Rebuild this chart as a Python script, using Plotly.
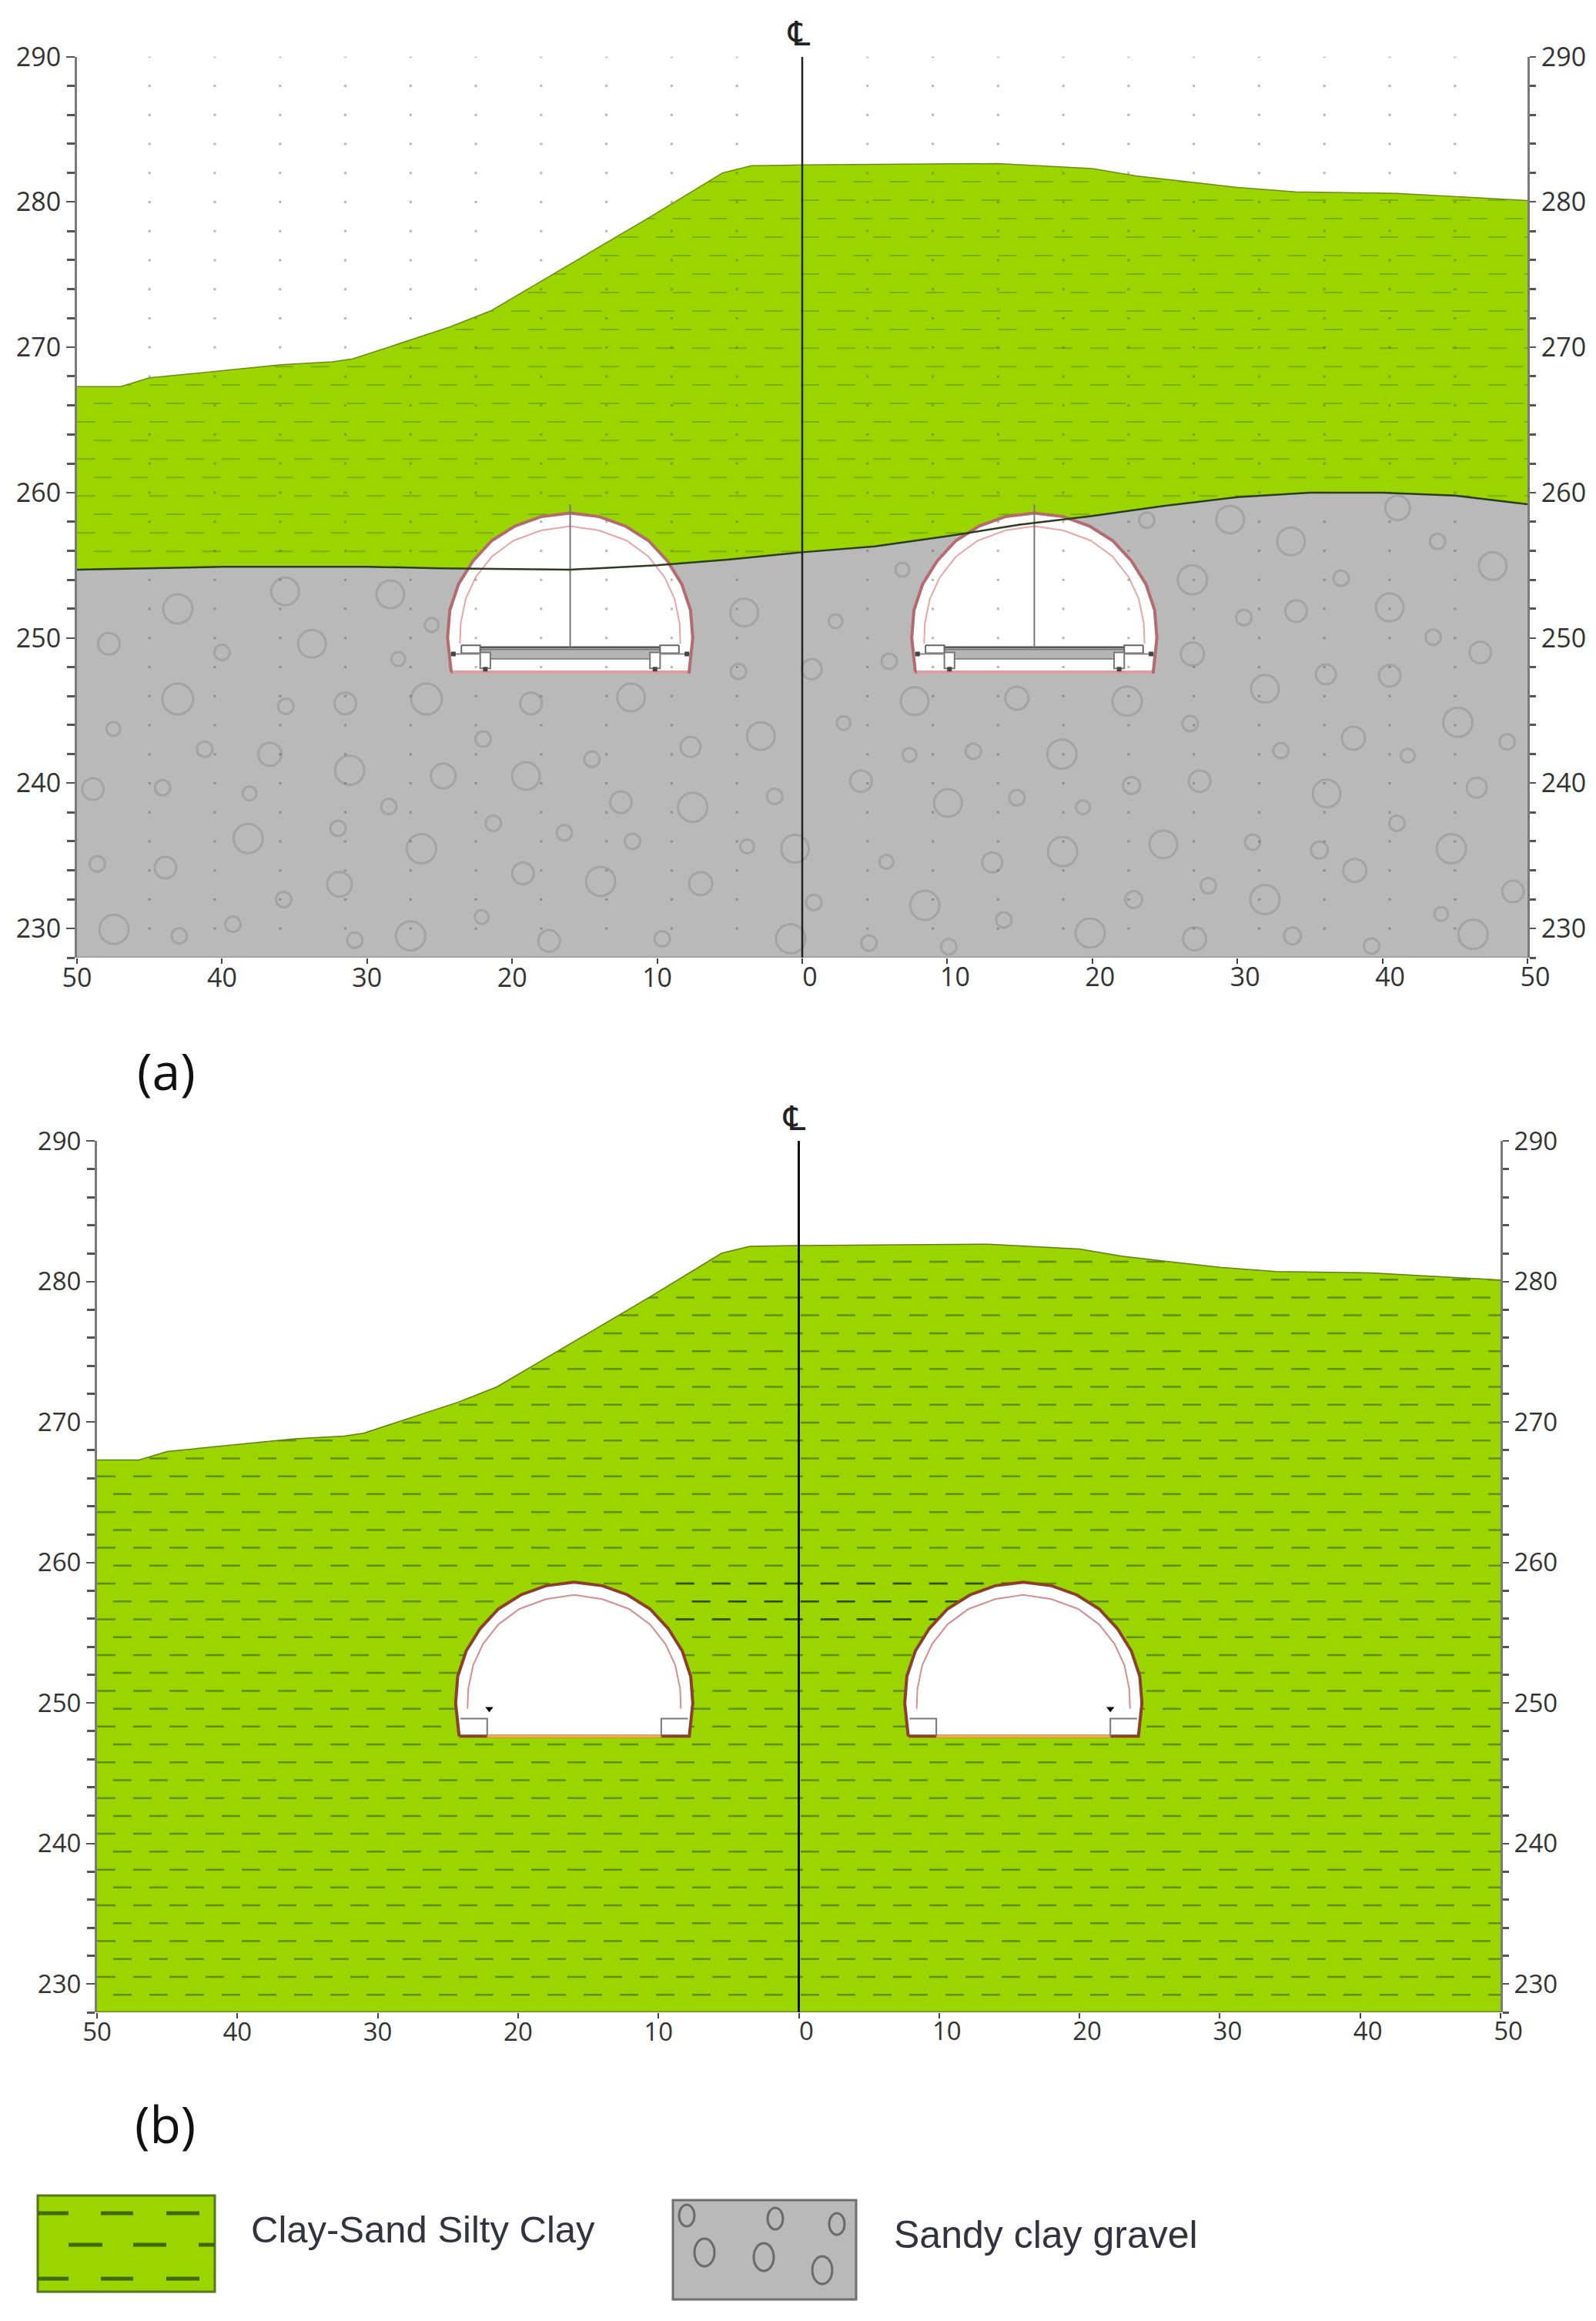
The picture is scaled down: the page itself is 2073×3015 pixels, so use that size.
# -*- coding: utf-8 -*-
"""
Geological section with twin tunnels, panels (a) and (b)
"""

import plotly.graph_objects as go

W = 2073
H = 3015
# the browser leaves its 8px body margin round the figure
PAGE = 8

# ground surface and soil interface, x is distance from centre line
surface_x = [-50, -47, -45, -40.8, -35.9, -32.4, -31, -24.3, -21.5, -10.6, -5.5, -3.5, 0, 13.5, 20, 23, 30, 34, 41, 50]
surface_y = [267.3, 267.3, 267.9, 268.3, 268.8, 269.0, 269.2, 271.4, 272.5, 278.9, 282.0, 282.5, 282.55, 282.65, 282.3, 281.8, 281.0, 280.7, 280.6, 280.1]
interface_x = [-50, -40, -30, -25, -16, -10, -5, 0, 5, 10, 15, 20, 25, 30, 35, 40, 45, 50]
interface_y = [254.7, 254.9, 254.9, 254.8, 254.7, 255.0, 255.4, 255.9, 256.3, 257.0, 257.8, 258.4, 259.1, 259.7, 260.0, 260.0, 259.8, 259.2]

# tunnel outlines, offsets from the tunnel axis
tunnel_centres = [-16, 16]
outer_dx = [-8.2, -8.45, -8.3, -7.7, -6.7, -5.4, -3.8, -2, 0, 2, 3.8, 5.4, 6.7, 7.7, 8.3, 8.45, 8.2, -8.2]
outer_el = [247.65, 250, 251.9, 253.7, 255.3, 256.7, 257.7, 258.35, 258.6, 258.35, 257.7, 256.7, 255.3, 253.7, 251.9, 250, 247.65, 247.65]
inner_dx = [-7.6, -7.55, -7.2, -6.5, -5.4, -3.9, -2, 0, 2, 3.9, 5.4, 6.5, 7.2, 7.55, 7.6]
inner_el = [249.6, 251, 252.7, 254.2, 255.6, 256.7, 257.4, 257.7, 257.4, 256.7, 255.6, 254.2, 252.7, 251, 249.6]

# gravel pieces in panel (a)
gravel_x = [-35.65, -28.4, -43.05, -25.55, -47.8, -33.8, -40, -27.85, -43.05, -35.6, -31.5, -25.9, -18.7, -11.8, -4.4, -4.0,
            -47.5, -22.0, -7.7, -2.85, -41.2, -36.7, -14.5, -31.2, -24.75, -19.05, -48.9, -44.1, -38.1, -12.5, -7.55, -1.9,
            -28.5, -21.3, -32, -16.4, -38.2, -26.25, -11.7, -3.8, -0.5, -48.6, -43.9, -19.25, -31.9, -13.9, -7, -35.75,
            -22.1, -47.45, -39.25, -42.95, -27, -30.85, -17.45, -9.65, -0.8,
            29.5, 41.05, 23.75, 33.7, 43.8, 47.6, 6.9, 26.9, 37.15, 34.05, 40.5, 30.45, 2.3, 43.5, 46.75, 26.9, 6, 0.65,
            36.1, 40.5, 31.9, 7.75, 14.8, 22.4, 2.85, 26.75, 45.2, 38, 48.6, 7.4, 11.8, 17.9, 33, 41.75, 4.05, 22.7, 27.4,
            36.15, 46.5, 10.05, 14.8, 19.35, 41, 24.9, 31.05, 35.65, 44.75, 17.95, 5.8, 13.1, 38.1, 28, 49, 0.8, 8.45,
            22.85, 31.9, 44.05, 13.9, 19.85, 46.25, 27.05, 33.8, 4.6, 10.1, 39.25]
gravel_y = [253.2, 253.0, 252.0, 250.9, 249.6, 249.6, 249.0, 248.55, 245.8, 245.3, 245.5, 245.8, 245.5, 245.9, 247.7, 251.75,
            243.75, 243.05, 242.5, 243.25, 242.35, 242.0, 241.65, 240.9, 240.5, 240.5, 239.6, 239.7, 239.3, 238.7, 238.35, 239.1,
            238.4, 237.25, 236.9, 236.6, 236.2, 235.5, 236, 235.65, 235.5, 234.45, 234.2, 233.8, 233.05, 233.25, 233.1, 232,
            230.8, 229.95, 230.3, 229.5, 229.5, 229.2, 229.15, 229.3, 229.3,
            258.15, 258.95, 258.1, 256.65, 256.65, 254.95, 254.7, 254, 254.1, 251.85, 252.1, 251.4, 251.15, 250.05, 249, 248.9, 248.4, 247.85,
            247.5, 247.4, 246.5, 245.65, 245.85, 245.65, 244.15, 244.1, 244.2, 243.1, 242.85, 241.95, 242.2, 242, 242.25, 241.9, 240.15, 239.85, 240.15,
            239.3, 239.7, 238.65, 239, 238.35, 237.25, 235.8, 235.95, 235.4, 235.5, 235.3, 234.6, 234.55, 234, 232.95, 232.55, 231.8, 231.6,
            232, 232, 231, 230.6, 229.7, 229.6, 229.3, 229.5, 229, 228.75, 228.8]
gravel_d = [36, 36, 38, 18, 28, 36, 20, 18, 40, 20, 28, 40, 28, 36, 20, 36,
            18, 20, 26, 36, 20, 30, 20, 38, 32, 36, 28, 20, 18, 28, 38, 20,
            20, 20, 20, 20, 38, 38, 20, 18, 36, 20, 28, 28, 32, 38, 30, 20,
            18, 38, 20, 20, 38, 20, 28, 20, 38,
            36, 32, 20, 36, 20, 36, 18, 38, 20, 28, 36, 20, 18, 20, 28, 30, 20, 26,
            26, 28, 36, 36, 30, 38, 18, 20, 38, 30, 20, 18, 20, 38, 20, 18, 28, 22, 28,
            36, 26, 36, 20, 18, 20, 36, 20, 22, 38, 38, 18, 26, 30, 20, 28, 20, 38,
            22, 38, 18, 20, 38, 38, 30, 22, 20, 20, 20]

# survey marks in panel (a)
dot_x = [-45, -40.5, -36, -31.5, -27, -22.5, -18, -13.5, -9, -4.5, 4.5, 9, 13.5, 18, 22.5, 27, 31.5, 36, 40.5, 45]
dot_y = [230, 232, 234, 236, 238, 240, 242, 244, 246, 248, 250, 252, 254, 256, 258, 260, 262, 264, 266, 268,
         270, 272, 274, 276, 278, 280, 282, 284, 286, 288, 290]

# clay hatch rows, from the bottom up
hatch_rows = [229.25, 230.52, 231.79, 233.07, 234.34, 235.61, 236.88, 238.15, 239.43, 240.70, 241.97, 243.24, 244.51, 245.79,
              247.06, 248.33, 249.60, 250.87, 252.15, 253.42, 254.69, 255.96, 257.23, 258.51, 259.78, 261.05, 262.32, 263.59,
              264.87, 266.14, 267.41, 268.68, 269.95, 271.23, 272.50, 273.77, 275.04, 276.31, 277.59, 278.86, 280.13, 281.40]
# darker stretch of three rows in panel (b), starts keep the dash phase of the rows under them
dark_rows = [258.51, 257.23, 255.96]
dark_starts = [-8.77, -7.62, -8.77]

left_ticks = [-50, -40, -30, -20, -10]
left_labels = ['50', '40', '30', '20', '10']
right_ticks = [0, 10, 20, 30, 40, 50]
right_labels = ['0', '10', '20', '30', '40', '50']

GREEN = '#9bd500'
GRAY = '#b9b9b9'
TEXT = '#333333'


def px(x):
    return (x - PAGE) / (W - 2 * PAGE)


def py(y):
    return 1 - (y - PAGE) / (H - 2 * PAGE)


def add_line(fig, x, y, xa, ya, color, width, dash=None):
    fig.add_trace(go.Scatter(x=x, y=y, xaxis=xa, yaxis=ya, mode='lines',
                             line=dict(color=color, width=width, dash=dash),
                             hoverinfo='skip', showlegend=False))


def add_poly(fig, x, y, xa, ya, fill, line_color=None, width=0):
    fig.add_trace(go.Scatter(x=x, y=y, xaxis=xa, yaxis=ya, mode='lines', fill='toself', fillcolor=fill,
                             line=dict(color=line_color or fill, width=width),
                             hoverinfo='skip', showlegend=False))


def add_ground(fig, xa, ya, hatch_color, hatch_width, shifted):
    add_poly(fig, [-50] + surface_x + [50], [228] + surface_y + [228], xa, ya, GREEN)
    for i, row in enumerate(hatch_rows):
        start = -48.85 if i % 2 == shifted else -50
        add_line(fig, [start, 50], [row, row], xa, ya, hatch_color, hatch_width, '24px,23px')
    # white above the ground line hides the row ends
    add_poly(fig, [-50] + surface_x + [50], [290] + surface_y + [290], xa, ya, 'white')


def add_tunnel_a(fig, cx, xa, ya):
    add_poly(fig, [cx + d for d in outer_dx], outer_el, xa, ya, 'white', '#b56a6e', 4)
    add_line(fig, [cx + d for d in inner_dx], inner_el, xa, ya, '#eba4a6', 2)
    add_line(fig, [cx - 8.1, cx + 8.1], [247.65, 247.65], xa, ya, '#e39aa0', 4)
    add_poly(fig, [cx - 6.2, cx + 6.2, cx + 6.2, cx - 6.2, cx - 6.2], [249.2, 249.2, 248.55, 248.55, 249.2], xa, ya, '#b5b5b5', '#777777', 1.5)
    add_line(fig, [cx - 6.2, cx + 6.2], [249.35, 249.35], xa, ya, '#555555', 3)
    for s in [-1, 1]:
        add_poly(fig, [cx + s * 7.5, cx + s * 6.2, cx + s * 6.2, cx + s * 7.5, cx + s * 7.5],
                 [249.5, 249.5, 248.95, 248.95, 249.5], xa, ya, 'white', '#666666', 2)
        add_poly(fig, [cx + s * 6.2, cx + s * 5.5, cx + s * 5.5, cx + s * 6.2, cx + s * 6.2],
                 [249.0, 249.0, 247.9, 247.9, 249.0], xa, ya, 'white', '#777777', 2)
        add_line(fig, [cx + s * 8.35, cx + s * 6.2], [248.9, 248.9], xa, ya, '#8a8a8a', 2)
        fig.add_trace(go.Scatter(x=[cx + s * 8.05, cx + s * 5.85], y=[248.9, 247.85], xaxis=xa, yaxis=ya, mode='markers',
                                 marker=dict(symbol='square', size=6, color='#444444'),
                                 hoverinfo='skip', showlegend=False))
    add_line(fig, [cx, cx], [249.35, 259.2], xa, ya, '#777777', 2)


def add_tunnel_b(fig, cx, mark_dx, xa, ya):
    add_poly(fig, [cx + d for d in outer_dx], outer_el, xa, ya, 'white', '#8c3f2b', 4)
    add_line(fig, [cx + d for d in inner_dx], inner_el, xa, ya, '#d78d8d', 2)
    add_line(fig, [cx - 6.2, cx + 6.2], [247.65, 247.65], xa, ya, '#eeaa55', 4)
    for s in [-1, 1]:
        add_line(fig, [cx + s * 8.1, cx + s * 6.2, cx + s * 6.2], [248.9, 248.9, 247.65], xa, ya, '#777777', 2)
    fig.add_trace(go.Scatter(x=[cx + mark_dx], y=[249.6], xaxis=xa, yaxis=ya, mode='markers',
                             marker=dict(symbol='triangle-down', size=9, color='black'),
                             hoverinfo='skip', showlegend=False))


def add_blank(fig, xa, ya):
    # keeps the overlay axes alive
    fig.add_trace(go.Scatter(x=[0], y=[260], xaxis=xa, yaxis=ya, mode='markers', opacity=0,
                             hoverinfo='skip', showlegend=False))


fig = go.Figure()

# panel (a)
add_ground(fig, 'x', 'y', '#7cb000', 2, 1)
add_poly(fig, [-50] + interface_x + [50], [228] + interface_y + [228], 'x', 'y', GRAY)
fig.add_trace(go.Scatter(x=gravel_x, y=gravel_y, xaxis='x', yaxis='y', mode='markers',
                         marker=dict(symbol='circle-open', size=gravel_d, color='#9a9a9a', line=dict(width=3, color='#9a9a9a')),
                         hoverinfo='skip', showlegend=False))
for c in tunnel_centres:
    add_tunnel_a(fig, c, 'x', 'y')
fig.add_trace(go.Scatter(x=[a for a in dot_x for b in dot_y], y=[b for a in dot_x for b in dot_y],
                         xaxis='x', yaxis='y', mode='markers',
                         marker=dict(symbol='square', size=3, color='rgba(80,80,80,0.42)'),
                         hoverinfo='skip', showlegend=False))
add_line(fig, surface_x, surface_y, 'x', 'y', '#6c8c10', 1.5)
add_line(fig, interface_x, interface_y, 'x', 'y', '#2c3c1c', 2.5)
add_line(fig, [-50, 50], [228, 228], 'x', 'y', '#9a9a9a', 3)
add_line(fig, [0, 0], [228, 290], 'x', 'y', '#222222', 2.5)
add_blank(fig, 'x2', 'y')
add_blank(fig, 'x', 'y2')

# panel (b)
add_ground(fig, 'x3', 'y3', '#5f8f00', 2.5, 0)
for row, start in zip(dark_rows, dark_starts):
    add_line(fig, [start, 16], [row, row], 'x3', 'y3', '#2f4d05', 2.5, '24px,23px')
add_tunnel_b(fig, tunnel_centres[0], -6.05, 'x3', 'y3')
add_tunnel_b(fig, tunnel_centres[1], 6.2, 'x3', 'y3')
add_line(fig, surface_x, surface_y, 'x3', 'y3', '#5f7f10', 1.5)
add_line(fig, [-50, 50], [228, 228], 'x3', 'y3', '#6f8a20', 3)
add_line(fig, [0, 0], [228, 290], 'x3', 'y3', '#111111', 3)
add_blank(fig, 'x4', 'y3')
add_blank(fig, 'x3', 'y4')

panels = {'a': dict(left=100, right=1984, top=73.7, bottom=1244, font=34),
          'b': dict(left=126, right=1949, top=1482, bottom=2614, font=33)}


def x_axes(p, anchor):
    dom = [px(p['left']), px(p['right'])]
    font = dict(family='Open Sans', size=p['font'], color=TEXT)
    main = dict(domain=dom, range=[-50, 50], anchor=anchor, tickmode='array', automargin=False,
                tickvals=left_ticks + right_ticks, ticktext=left_labels + [''] * 6, ticks='outside', ticklen=7,
                tickwidth=2, tickcolor='#444444', tickfont=font, showgrid=False, zeroline=False, showline=False,
                ticklabelstandoff=-11)
    over = dict(domain=dom, range=[-50, 50], anchor=anchor, tickmode='array', automargin=False,
                tickvals=right_ticks, ticktext=right_labels, ticks='', tickfont=font, showgrid=False, zeroline=False,
                showline=False, ticklabelshift=10, ticklabelstandoff=2, side='bottom')
    return main, over


def y_axes(p, anchor, over_name):
    dom = [py(p['bottom']), py(p['top'])]
    common = dict(domain=dom, range=[228, 290], anchor=anchor, tick0=230, dtick=10, ticks='outside', ticklen=11,
                  tickwidth=2, tickcolor='#555555', showgrid=False, zeroline=False, showline=True,
                  linecolor='#7a7a7a', linewidth=3, automargin=False,
                  minor=dict(tick0=230, dtick=2, ticks='outside', ticklen=10, tickwidth=3, tickcolor='#555555', showgrid=False),
                  tickfont=dict(family='Open Sans', size=p['font'], color=TEXT), ticklabelstandoff=0)
    left = dict(common, side='left')
    right = dict(common, side='right', overlaying=over_name, ticklen=8,
                 minor=dict(tick0=230, dtick=2, ticks='outside', ticklen=8, tickwidth=3, tickcolor='#555555', showgrid=False))
    return left, right


xa_main, xa_over = x_axes(panels['a'], 'y')
xb_main, xb_over = x_axes(panels['b'], 'y3')
ya_left, ya_right = y_axes(panels['a'], 'x', 'y')
yb_left, yb_right = y_axes(panels['b'], 'x3', 'y3')
xa_over['overlaying'] = 'x'
xb_over['overlaying'] = 'x3'

annotations = [
    dict(text='(a)', x=px(216), y=py(1390), font=dict(family='Open Sans', size=66, color='#111111')),
    dict(text='(b)', x=px(214), y=py(2758), font=dict(family='Open Sans', size=66, color='#111111')),
    dict(text='\u2104', x=px(1038), y=py(43), font=dict(family='DejaVu Sans', size=44, color='#222222')),
    dict(text='\u2104', x=px(1032), y=py(1452), font=dict(family='DejaVu Sans', size=44, color='#222222')),
    dict(text='Clay-Sand Silty Clay', x=px(549), y=py(2896), font=dict(family='Liberation Sans', size=49, color='#333340')),
    dict(text='Sandy clay gravel', x=px(1358), y=py(2903), font=dict(family='Liberation Sans', size=50, color='#333340')),
]
for a in annotations:
    a.update(xref='paper', yref='paper', showarrow=False, xanchor='center', yanchor='middle')

# legend swatches
shapes = [
    dict(type='rect', x0=px(49), x1=px(279), y0=py(2852), y1=py(2977), fillcolor=GREEN, line=dict(color='#55761a', width=3)),
    dict(type='rect', x0=px(874), x1=px(1112), y0=py(2858), y1=py(2987), fillcolor=GRAY, line=dict(color='#6f6f6f', width=3)),
]
for y0, spans in [(2875, [(49, 89), (131, 173), (216, 259)]),
                  (2916, [(89, 133), (173, 216), (258, 279)]),
                  (2960, [(49, 89), (131, 173), (216, 259)])]:
    for x0, x1 in spans:
        shapes.append(dict(type='line', x0=px(x0), x1=px(x1), y0=py(y0), y1=py(y0), line=dict(color='#3f6a00', width=5)))
for cx, cy, w, h in [(892, 2878, 20, 28), (1007, 2882, 20, 28), (1087, 2889, 20, 28),
                     (915, 2926, 26, 36), (992, 2932, 26, 36), (1068, 2949, 26, 36)]:
    shapes.append(dict(type='circle', x0=px(cx - w / 2), x1=px(cx + w / 2), y0=py(cy - h / 2), y1=py(cy + h / 2),
                       line=dict(color='#6a6a6a', width=3)))
for s in shapes:
    s.update(xref='paper', yref='paper', layer='above')

fig.update_layout(width=W - 2 * PAGE, height=H - 2 * PAGE, autosize=False, margin=dict(l=0, r=0, t=0, b=0),
                  paper_bgcolor='white', plot_bgcolor='white', showlegend=False,
                  xaxis=xa_main, xaxis2=xa_over, xaxis3=xb_main, xaxis4=xb_over,
                  yaxis=ya_left, yaxis2=ya_right, yaxis3=yb_left, yaxis4=yb_right,
                  annotations=annotations, shapes=shapes)

fig.write_html("out.html")
